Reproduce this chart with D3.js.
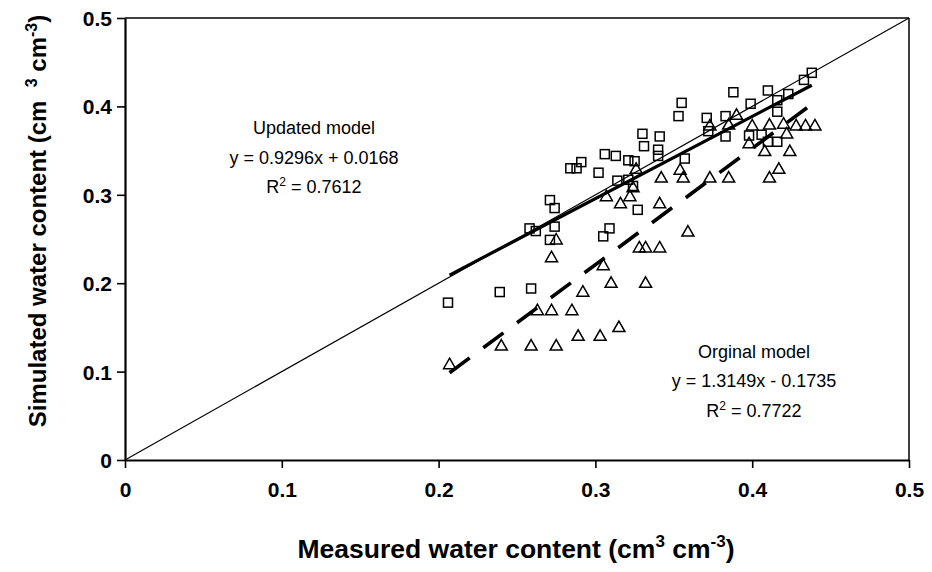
<!DOCTYPE html>
<html><head><meta charset="utf-8">
<script src="https://cdn.jsdelivr.net/npm/d3@7"></script>
<style>body{margin:0;background:#fff}</style>
</head><body><svg id="c" width="932" height="572"></svg>
<script>
// ---- data ----
const updatedX = [0.206,0.239,0.259,0.258,0.262,0.271,0.274,0.274,0.271,0.284,0.288,0.291,0.302,0.306,0.313,0.321,0.325,0.314,0.321,0.324,0.327,0.305,0.309,0.330,0.331,0.341,0.340,0.340,0.355,0.353,0.357,0.371,0.383,0.372,0.383,0.388,0.399,0.398,0.406,0.410,0.416,0.423,0.416,0.410,0.416,0.433,0.438];
const updatedY = [0.178,0.190,0.194,0.262,0.259,0.294,0.285,0.264,0.249,0.330,0.330,0.337,0.325,0.346,0.344,0.339,0.338,0.316,0.317,0.310,0.283,0.253,0.262,0.369,0.355,0.366,0.351,0.344,0.404,0.389,0.341,0.387,0.389,0.372,0.366,0.416,0.403,0.367,0.368,0.418,0.407,0.414,0.394,0.360,0.360,0.430,0.438];
const originalX = [0.207,0.240,0.259,0.275,0.263,0.272,0.285,0.289,0.303,0.315,0.292,0.310,0.332,0.305,0.275,0.272,0.328,0.332,0.341,0.359,0.307,0.316,0.322,0.324,0.326,0.342,0.341,0.354,0.356,0.373,0.385,0.390,0.373,0.385,0.400,0.411,0.420,0.428,0.434,0.440,0.422,0.398,0.408,0.424,0.417,0.411];
const originalY = [0.109,0.130,0.130,0.130,0.170,0.170,0.170,0.141,0.141,0.151,0.191,0.201,0.201,0.221,0.250,0.230,0.241,0.241,0.241,0.259,0.299,0.291,0.299,0.309,0.330,0.320,0.291,0.329,0.320,0.320,0.320,0.391,0.379,0.380,0.379,0.380,0.381,0.379,0.379,0.379,0.370,0.359,0.350,0.350,0.330,0.320];
const updatedFit = [0.9296, 0.0168];      // slope, intercept
const originalFit = [1.3149, -0.1735];
const fitRange = [0.207, 0.438];
const tickValues = [0, 0.1, 0.2, 0.3, 0.4, 0.5];
const tickLabels = ["0", "0.1", "0.2", "0.3", "0.4", "0.5"];
const updatedText = ["Updated model", "y = 0.9296x + 0.0168", "0.7612"];
const originalText = ["Orginal model", "y = 1.3149x - 0.1735", "0.7722"];

// ---- layout ----
const svg = d3.select("#c");
const F = "'Liberation Sans', Arial, sans-serif";
const x = d3.scaleLinear().domain([0, 0.5]).range([125, 909]);
const y = d3.scaleLinear().domain([0, 0.5]).range([460, 18]);

// frame (top/right)
svg.append("line").attr("x1", x(0)).attr("x2", x(0.5)).attr("y1", y(0.5)).attr("y2", y(0.5)).attr("stroke", "#000").attr("stroke-width", 1.5);
svg.append("line").attr("x1", x(0.5)).attr("x2", x(0.5)).attr("y1", y(0)).attr("y2", y(0.5)).attr("stroke", "#000").attr("stroke-width", 1.5);

// 1:1 line
svg.append("line").attr("x1", x(0)).attr("y1", y(0)).attr("x2", x(0.5)).attr("y2", y(0.5))
  .attr("stroke", "#000").attr("stroke-width", 1.2);

// markers
const sq = 9;
svg.append("g").selectAll("rect").data(updatedX).join("rect")
  .attr("x", (d) => x(d) - sq / 2).attr("y", (d, i) => y(updatedY[i]) - sq / 2)
  .attr("width", sq).attr("height", sq)
  .attr("fill", "none").attr("stroke", "#000").attr("stroke-width", 1.5);

const tri = "M0,-5.5L6,5L-6,5Z";
svg.append("g").selectAll("path").data(originalX).join("path")
  .attr("d", tri)
  .attr("transform", (d, i) => `translate(${x(d)},${y(originalY[i])})`)
  .attr("fill", "none").attr("stroke", "#000").attr("stroke-width", 1.5).attr("stroke-linejoin", "miter");

// regression lines
const fitLine = (f) => fitRange.map((v) => [x(v), y(f[0] * v + f[1])]);
svg.append("path").attr("d", d3.line()(fitLine(updatedFit)))
  .attr("stroke", "#000").attr("stroke-width", 3.2).attr("fill", "none");
svg.append("path").attr("d", d3.line()(fitLine(originalFit)))
  .attr("stroke", "#000").attr("stroke-width", 3.6).attr("fill", "none")
  .attr("stroke-dasharray", "25,17");

// axes
const fmt = (d) => tickLabels[tickValues.indexOf(d)];
const xa = svg.append("g").attr("transform", `translate(0,${y(0)})`)
  .call(d3.axisBottom(x).tickValues(tickValues).tickFormat(fmt).tickSize(8).tickSizeOuter(0));
const ya = svg.append("g").attr("transform", `translate(${x(0)},0)`)
  .call(d3.axisLeft(y).tickValues(tickValues).tickFormat(fmt).tickSize(8).tickSizeOuter(0));
[xa, ya].forEach((a) => {
  a.select(".domain").attr("stroke-width", 2.2);
  a.selectAll(".tick line").attr("stroke-width", 1.6);
  a.selectAll(".tick text").attr("font-family", F).attr("font-size", 21).attr("font-weight", "bold").attr("fill", "#000");
});
xa.selectAll(".tick text").attr("dy", null).attr("y", 37);
ya.selectAll(".tick text").attr("x", -13).attr("dy", "0.36em");

// axis titles
const xt = svg.append("text").attr("x", 516).attr("y", 558).attr("text-anchor", "middle")
  .attr("font-family", F).attr("font-size", 26.5).attr("font-weight", "bold");
xt.append("tspan").text("Measured water content (cm");
xt.append("tspan").attr("font-size", 17).attr("dy", -11).text("3");
xt.append("tspan").attr("dy", 11).text(" cm");
xt.append("tspan").attr("font-size", 17).attr("dy", -11).text("-3");
xt.append("tspan").attr("dy", 11).text(")");

const yt = svg.append("text").attr("transform", "translate(46,221) rotate(-90)").attr("text-anchor", "middle")
  .attr("font-family", F).attr("font-size", 24).attr("font-weight", "bold");
yt.append("tspan").text("Simulated water content (cm\u00a0\u00a0");
yt.append("tspan").attr("font-size", 16).attr("dy", -9).text("3");
yt.append("tspan").attr("dy", 9).text(" cm");
yt.append("tspan").attr("font-size", 16).attr("dy", -9).text("-3");
yt.append("tspan").attr("dy", 9).text(")");

// annotations
function block(lines, cx, y0) {
  const g = svg.append("g").attr("font-family", F).attr("font-size", 18).attr("text-anchor", "middle");
  g.append("text").attr("x", cx).attr("y", y0).text(lines[0]);
  g.append("text").attr("x", cx).attr("y", y0 + 29.5).text(lines[1]);
  const t = g.append("text").attr("x", cx).attr("y", y0 + 59);
  t.append("tspan").text("R");
  t.append("tspan").attr("font-size", 12).attr("dy", -7).text("2");
  t.append("tspan").attr("dy", 7).text(" = " + lines[2]);
}
block(updatedText, 314, 134);
block(originalText, 754, 357.5);
</script></body></html>
